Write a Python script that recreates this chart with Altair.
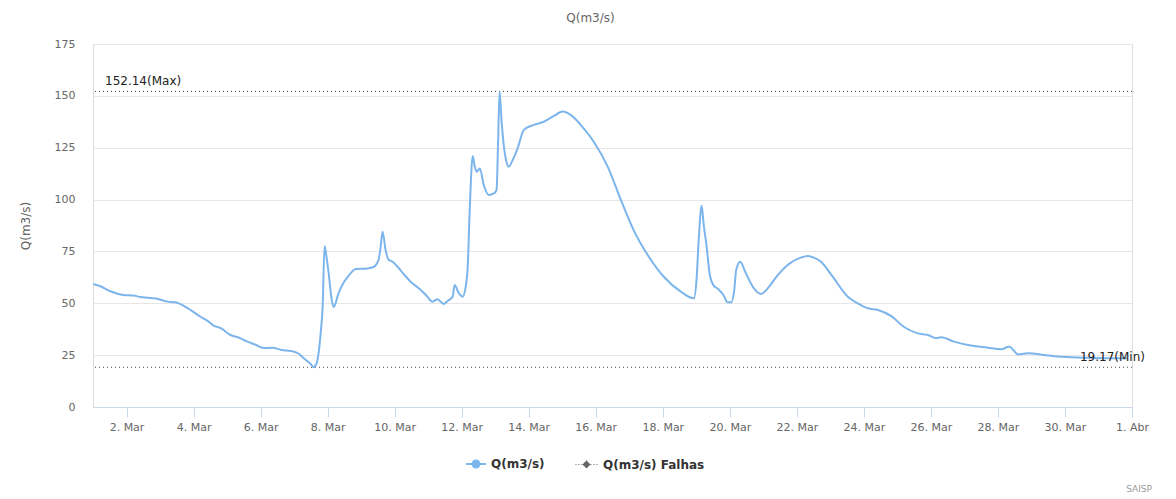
import altair as alt
import pandas as pd

# fractional day of March 2019 (1.0 = 1 Mar 00:00)
days = [1.01, 1.22, 1.52, 1.91, 2.21, 2.42, 2.63, 2.87, 3.22, 3.46, 3.82, 4.21, 4.42, 4.60, 4.81,
        5.10, 5.34, 5.61, 5.85, 6.09, 6.36, 6.60, 6.99, 7.13, 7.28, 7.49, 7.58, 7.67, 7.73, 7.79,
        7.85, 7.91, 7.97, 8.03, 8.12, 8.18, 8.33, 8.48, 8.60, 8.84, 9.13, 9.37, 9.52, 9.58, 9.64,
        9.73, 9.82, 9.94, 10.12, 10.30, 10.48, 10.78, 10.96, 11.13, 11.28, 11.46, 11.61, 11.73,
        11.79, 11.91, 12.03, 12.12, 12.18, 12.24, 12.33, 12.39, 12.45, 12.54, 12.66, 12.81, 12.96,
        13.04, 13.09, 13.13, 13.19, 13.25, 13.34, 13.40, 13.52, 13.67, 13.85, 14.15, 14.45, 14.75,
        15.01, 15.25, 15.64, 15.94, 16.36, 16.75, 17.13, 17.55, 18.03, 18.54, 18.93, 19.01, 19.07,
        19.16, 19.22, 19.31, 19.40, 19.52, 19.66, 19.81, 19.93, 20.04, 20.13, 20.19, 20.31, 20.48,
        20.72, 20.93, 21.13, 21.43, 21.82, 22.12, 22.33, 22.51, 22.72, 23.07, 23.52, 23.82, 24.12,
        24.42, 24.81, 25.19, 25.61, 25.91, 26.15, 26.30, 26.69, 27.19, 27.70, 28.09, 28.34, 28.60,
        28.90, 29.37, 29.79, 30.57, 31.37, 31.85]
q = [59.3, 58.2, 55.8, 54.0, 53.7, 53.0, 52.7, 52.3, 50.8, 50.5, 47.7, 43.5, 41.5, 39.2, 38.0,
     34.7, 33.5, 31.5, 30.0, 28.4, 28.6, 27.6, 26.7, 25.8, 23.6, 20.8, 19.17, 21.0, 26.0, 35.0,
     48.0, 77.6, 72.0, 64.6, 52.0, 48.2, 55.0, 60.0, 62.7, 66.5, 66.7, 67.5, 70.9, 77.0, 84.5,
     75.7, 71.0, 70.0, 67.0, 63.5, 60.4, 56.4, 53.5, 50.8, 52.0, 49.7, 51.5, 53.2,
     58.8, 55.0, 53.2, 58.0, 67.6, 95.0, 121.0, 116.0, 113.4, 115.0, 107.0, 102.2, 103.0,
     104.6, 130.0, 152.14, 138.0, 127.0, 118.0, 115.8, 119.0, 124.7, 133.5, 136.0, 137.5, 140.3,
     142.4, 140.8, 134.3, 127.9, 115.8, 99.8, 85.3, 73.3, 62.8, 55.6, 52.4, 62.0, 80.0,
     97.0, 88.0, 77.3, 64.0, 58.5, 56.8, 54.0, 50.5, 50.5, 56.0, 66.0, 70.0, 64.4,
     57.2, 54.5, 57.2, 63.6, 69.6, 72.0, 72.8, 72.0, 70.0, 62.8, 53.2, 50.0, 47.6,
     46.8, 43.9, 38.7, 35.5, 34.7, 33.2, 33.6, 31.5, 29.6, 28.6, 27.8, 29.1, 25.4,
     25.9, 25.1, 24.3, 23.8, 23.5, 23.5]

series_names = ["Q(m3/s)", "Q(m3/s) Falhas"]
extreme_values = [152.14, 19.17]
extreme_labels = ["152.14(Max)", "19.17(Min)"]
tick_days = [2, 4, 6, 8, 10, 12, 14, 16, 18, 20, 22, 24, 26, 28, 30]

base_date = pd.Timestamp("2019-03-01 00:00:00")
df = pd.DataFrame({
    "t": [(base_date + pd.to_timedelta(d - 1, unit="D")).strftime("%Y-%m-%dT%H:%M:%S") for d in days],
    "q": q,
    "serie": series_names[0],
})
df2 = df.assign(serie=series_names[1])

FONT = "DejaVu Sans"
W, H = 1039, 363
BLUE = "#7cb5ec"

tick_vals = [alt.DateTime(year=2019, month=3, date=d) for d in tick_days] + [alt.DateTime(year=2019, month=4, date=1)]

x_enc = alt.X("t:T",
              scale=alt.Scale(domain=[alt.DateTime(year=2019, month=3, date=1),
                                      alt.DateTime(year=2019, month=4, date=1)], nice=False),
              axis=alt.Axis(values=tick_vals, grid=False, title=None,
                            labelExpr="timeFormat(datum.value, '%-d') + '. ' + (month(datum.value) == 2 ? 'Mar' : 'Abr')",
                            domainColor="#ccd6eb", tickColor="#ccd6eb", tickSize=10,
                            labelColor="#666666", labelFontSize=11, labelFont=FONT,
                            labelPadding=4, labelFlush=False, labelOverlap=False))
y_scale = alt.Scale(domain=[0, 175], nice=False)
y_enc = alt.Y("q:Q", scale=y_scale,
              axis=alt.Axis(values=[0, 25, 50, 75, 100, 125, 150, 175], title="Q(m3/s)",
                            titleColor="#666666", titleFont=FONT, titleFontSize=12, titleFontWeight="normal",
                            titlePadding=22, gridColor="#e6e6e6", domain=False, ticks=False,
                            labelColor="#666666", labelFont=FONT, labelFontSize=11, labelPadding=18))

line = alt.Chart(df).mark_line(strokeWidth=2, interpolate="monotone").encode(
    x=x_enc, y=y_enc,
    color=alt.Color("serie:N", scale=alt.Scale(domain=[series_names[0]], range=[BLUE]),
                    legend=alt.Legend(orient="none", legendX=372, legendY=409, title=None, padding=0,
                                      symbolType="M-1,0L1,0M-0.35,0A0.35,0.35,0,1,0,0.35,0A0.35,0.35,0,1,0,-0.35,0",
                                      symbolSize=400, symbolStrokeWidth=2, symbolFillColor=BLUE,
                                      labelFont=FONT, labelFontSize=12, labelFontWeight="bold",
                                      labelColor="#333333", labelOffset=4)),
)

falhas = alt.Chart(df2).transform_filter("false").mark_line(strokeWidth=1, strokeDash=[1, 2]).encode(
    x="t:T", y="q:Q",
    color=alt.Color("serie:N", scale=alt.Scale(domain=[series_names[1]], range=["#666666"]),
                    legend=alt.Legend(orient="none", legendX=482, legendY=409, title=None, padding=0,
                                      symbolType="M-1,0L1,0M0,-0.35L0.35,0L0,0.35L-0.35,0Z",
                                      symbolSize=484, symbolStrokeWidth=1, symbolFillColor="#666666",
                                      symbolDash=[1, 2],
                                      labelFont=FONT, labelFontSize=12, labelFontWeight="bold",
                                      labelColor="#333333", labelOffset=5)),
)

ext = pd.DataFrame({"v": extreme_values, "label": extreme_labels})
rules = alt.Chart(ext).mark_rule(color="#444444", strokeDash=[1, 3], strokeWidth=1).encode(
    y=alt.Y("v:Q", scale=y_scale)
)
max_text = alt.Chart(ext.iloc[[0]]).mark_text(align="left", baseline="bottom", dy=-3,
                                              font=FONT, fontSize=12, color="#222222").encode(
    x=alt.value(12), y=alt.Y("v:Q", scale=y_scale), text="label:N"
)
min_text = alt.Chart(ext.iloc[[1]]).mark_text(align="right", baseline="bottom", dy=-3,
                                              font=FONT, fontSize=12, color="#222222").encode(
    x=alt.value(W + 13), y=alt.Y("v:Q", scale=y_scale), text="label:N"
)
credit = alt.Chart(pd.DataFrame({"c": ["SAISP"]})).mark_text(
    align="right", baseline="middle", font=FONT, fontSize=9, color="#999999").encode(
    x=alt.value(W + 20), y=alt.value(H + 82), text="c:N"
)

chart = alt.layer(rules, line, falhas, max_text, min_text, credit).resolve_scale(
    color="independent"
).properties(
    width=W, height=H,
    title=alt.TitleParams("Q(m3/s)", font=FONT, fontSize=12, fontWeight="normal", color="#666666",
                          anchor="middle", dx=-22, offset=13),
    autosize=alt.AutoSizeParams(type="none"),
    padding={"left": 85, "top": 36, "right": 36, "bottom": 92},
).configure_view(stroke=None).configure(background="white")

chart.save("out.html", embed_options={"renderer": "svg", "actions": False})
